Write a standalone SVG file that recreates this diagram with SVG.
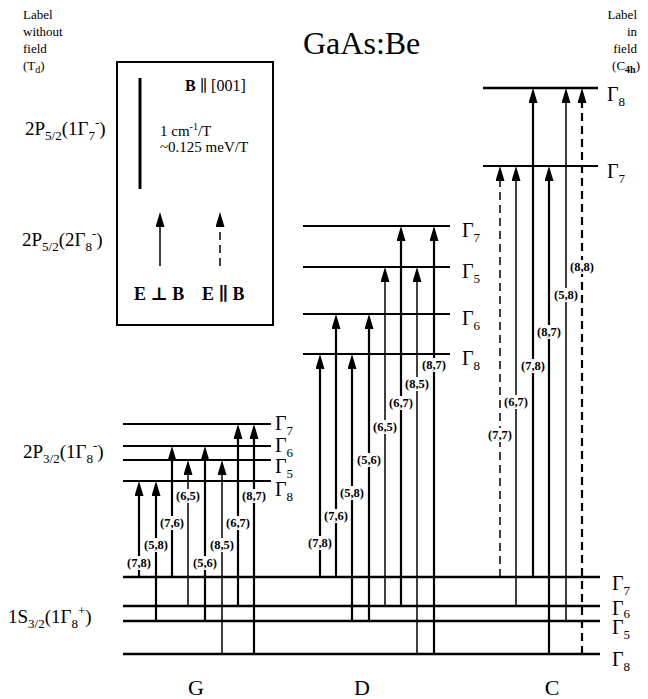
<svg xmlns="http://www.w3.org/2000/svg" width="648" height="699" viewBox="0 0 648 699" font-family="'Liberation Serif', 'DejaVu Serif', serif">
<style>
text{font-family:'Liberation Serif','DejaVu Serif',serif;fill:#000}
.lv{stroke:#000;stroke-width:2.2;fill:none}
.gl{stroke:#000;stroke-width:2.5;fill:none}
.a{stroke:#000;stroke-width:2.2;fill:none}
.t{stroke:#000;stroke-width:1.5;fill:none}
.d{stroke-dasharray:8,5}
.g{font-size:20px}
.s{font-size:13px}
.lab{font-size:12.5px;font-weight:bold;text-anchor:middle}
.hd{font-size:13px}
.big{font-size:19px}
.sb{font-size:13px}
</style>
<defs>
<marker id="ah" viewBox="0 0 15 9" refX="9" refY="4.5" markerWidth="15" markerHeight="9" markerUnits="userSpaceOnUse" orient="auto"><path d="M0,0L15,4.5L0,9z" fill="#000"/></marker>
</defs>
<rect width="648" height="699" fill="#fff"/>

<g id="title"><text x="303" y="54" font-size="32">GaAs:Be</text></g>

<g id="left-header">
<text x="23" y="19" class="hd">Label</text>
<text x="23" y="36" class="hd">without</text>
<text x="23" y="53" class="hd">field</text>
<text x="23" y="70" class="hd">(T<tspan dy="3" font-size="10">d</tspan><tspan dy="-3">)</tspan></text>
</g>
<g id="right-header">
<text x="637" y="19" class="hd" text-anchor="end">Label</text>
<text x="637" y="36" class="hd" text-anchor="end">in</text>
<text x="637" y="53" class="hd" text-anchor="end">field</text>
<text x="640" y="70" class="hd" text-anchor="end">(C<tspan dy="3" font-size="10" font-weight="bold">4h</tspan><tspan dy="-3">)</tspan></text>
</g>

<g id="left-labels">
<text x="25" y="135" class="big">2P<tspan dy="5" class="sb">5/2</tspan><tspan dy="-5">(1Γ</tspan><tspan dy="5" class="sb">7</tspan><tspan dy="-13" class="sb">-</tspan><tspan dy="8">)</tspan></text>
<text x="22" y="246" class="big">2P<tspan dy="5" class="sb">5/2</tspan><tspan dy="-5">(2Γ</tspan><tspan dy="5" class="sb">8</tspan><tspan dy="-13" class="sb">-</tspan><tspan dy="8">)</tspan></text>
<text x="23" y="458" class="big">2P<tspan dy="5" class="sb">3/2</tspan><tspan dy="-5">(1Γ</tspan><tspan dy="5" class="sb">8</tspan><tspan dy="-13" class="sb">-</tspan><tspan dy="8">)</tspan></text>
<text x="8" y="623" class="big">1S<tspan dy="5" class="sb">3/2</tspan><tspan dy="-5">(1Γ</tspan><tspan dy="5" class="sb">8</tspan><tspan dy="-13" class="sb">+</tspan><tspan dy="8">)</tspan></text>
</g>

<g id="inset">
<rect x="117" y="62" width="156" height="263" fill="none" stroke="#000" stroke-width="2"/>
<line x1="140" y1="78" x2="140" y2="189" stroke="#000" stroke-width="3"/>
<text x="185" y="91" font-size="16"><tspan font-weight="bold">B</tspan> ∥ [001]</text>
<text x="160" y="136" font-size="15">1 cm<tspan dy="-6" font-size="10">-1</tspan><tspan dy="6">/T</tspan></text>
<text x="160" y="152" font-size="15">~0.125 meV/T</text>
<line x1="160" y1="266" x2="160" y2="218" class="t" marker-end="url(#ah)"/>
<line x1="220" y1="266" x2="220" y2="218" class="t d" stroke-width="2" marker-end="url(#ah)"/>
<text x="134" y="300" font-size="18" font-weight="bold">E ⊥ B</text>
<text x="202" y="300" font-size="18" font-weight="bold">E ∥ B</text>
</g>

<g id="ground-levels">
<line x1="123" y1="577" x2="600" y2="577" class="gl"/>
<line x1="123" y1="606" x2="600" y2="606" class="gl"/>
<line x1="123" y1="621" x2="600" y2="621" class="gl"/>
<line x1="123" y1="654" x2="600" y2="654" class="gl"/>
<text x="612" y="590" class="g">Γ<tspan dy="5" class="s">7</tspan></text>
<text x="612" y="615" class="g">Γ<tspan dy="3" class="s">6</tspan></text>
<text x="612" y="634" class="g">Γ<tspan dy="5" class="s">5</tspan></text>
<text x="612" y="666" class="g">Γ<tspan dy="5" class="s">8</tspan></text>
</g>

<g id="G-levels">
<line x1="123" y1="424" x2="271" y2="424" class="lv"/>
<line x1="123" y1="446" x2="271" y2="446" class="lv"/>
<line x1="123" y1="460" x2="271" y2="460" class="lv"/>
<line x1="123" y1="481" x2="271" y2="481" class="lv"/>
<text x="275" y="430" class="g">Γ<tspan dy="5" class="s">7</tspan></text>
<text x="275" y="452" class="g">Γ<tspan dy="5" class="s">6</tspan></text>
<text x="275" y="473" class="g">Γ<tspan dy="5" class="s">5</tspan></text>
<text x="275" y="496" class="g">Γ<tspan dy="5" class="s">8</tspan></text>
</g>

<g id="D-levels">
<line x1="303" y1="226" x2="450" y2="226" class="lv"/>
<line x1="303" y1="267" x2="450" y2="267" class="lv"/>
<line x1="303" y1="314" x2="450" y2="314" class="lv"/>
<line x1="303" y1="354" x2="450" y2="354" class="lv"/>
<text x="462" y="237" class="g">Γ<tspan dy="5" class="s">7</tspan></text>
<text x="462" y="278" class="g">Γ<tspan dy="5" class="s">5</tspan></text>
<text x="462" y="325" class="g">Γ<tspan dy="5" class="s">6</tspan></text>
<text x="462" y="365" class="g">Γ<tspan dy="5" class="s">8</tspan></text>
</g>

<g id="C-levels">
<line x1="483" y1="88" x2="598" y2="88" class="gl"/>
<line x1="483" y1="166" x2="598" y2="166" class="lv"/>
<text x="607" y="101" class="g">Γ<tspan dy="5" class="s">8</tspan></text>
<text x="607" y="178" class="g">Γ<tspan dy="5" class="s">7</tspan></text>
</g>

<g id="connectors">
<line x1="139" y1="577" x2="139" y2="487" class="a" marker-end="url(#ah)"/>
<line x1="156" y1="621" x2="156" y2="487" class="a" marker-end="url(#ah)"/>
<line x1="172" y1="577" x2="172" y2="452" class="a" marker-end="url(#ah)"/>
<line x1="188" y1="606" x2="188" y2="466" class="t" marker-end="url(#ah)"/>
<line x1="205" y1="621" x2="205" y2="452" class="a" marker-end="url(#ah)"/>
<line x1="222" y1="654" x2="222" y2="466" class="t" marker-end="url(#ah)"/>
<line x1="238" y1="606" x2="238" y2="430" class="a" marker-end="url(#ah)"/>
<line x1="254" y1="654" x2="254" y2="430" class="a" marker-end="url(#ah)"/>

<line x1="320" y1="577" x2="320" y2="360" class="a" marker-end="url(#ah)"/>
<line x1="336" y1="577" x2="336" y2="320" class="a" marker-end="url(#ah)"/>
<line x1="352" y1="621" x2="352" y2="360" class="a" marker-end="url(#ah)"/>
<line x1="369" y1="621" x2="369" y2="320" class="a" marker-end="url(#ah)"/>
<line x1="385" y1="606" x2="385" y2="273" class="t" marker-end="url(#ah)"/>
<line x1="401" y1="606" x2="401" y2="232" class="a" marker-end="url(#ah)"/>
<line x1="417" y1="654" x2="417" y2="273" class="t" marker-end="url(#ah)"/>
<line x1="434" y1="654" x2="434" y2="232" class="a" marker-end="url(#ah)"/>

<line x1="500" y1="577" x2="500" y2="172" class="t d" stroke-width="2" marker-end="url(#ah)"/>
<line x1="516" y1="606" x2="516" y2="172" class="t" marker-end="url(#ah)"/>
<line x1="533" y1="577" x2="533" y2="94" class="a" stroke-width="2.6" marker-end="url(#ah)"/>
<line x1="549" y1="654" x2="549" y2="172" class="a" stroke-width="2.6" marker-end="url(#ah)"/>
<line x1="566" y1="621" x2="566" y2="94" class="t" marker-end="url(#ah)"/>
<line x1="582" y1="654" x2="582" y2="94" class="a d" stroke-width="2.6" marker-end="url(#ah)"/>
</g>

<g id="transition-labels">
<g fill="#fff">
<rect x="126" y="556" width="26" height="14"/><rect x="143" y="538" width="26" height="14"/>
<rect x="159" y="516" width="26" height="14"/><rect x="175" y="489" width="26" height="14"/>
<rect x="192" y="556" width="26" height="14"/><rect x="209" y="538" width="26" height="14"/>
<rect x="225" y="516" width="26" height="14"/><rect x="241" y="489" width="26" height="14"/>
<rect x="307" y="536" width="26" height="14"/><rect x="323" y="509" width="26" height="14"/>
<rect x="339" y="486" width="26" height="14"/><rect x="356" y="453" width="26" height="14"/>
<rect x="372" y="420" width="26" height="14"/><rect x="388" y="396" width="26" height="14"/>
<rect x="404" y="377" width="26" height="14"/><rect x="421" y="358" width="26" height="14"/>
<rect x="487" y="428" width="26" height="14"/><rect x="503" y="395" width="26" height="14"/>
<rect x="520" y="359" width="26" height="14"/><rect x="536" y="325" width="26" height="14"/>
<rect x="553" y="288" width="26" height="14"/><rect x="569" y="260" width="26" height="14"/>
</g>
<text x="139" y="567" class="lab">(7,8)</text>
<text x="156" y="549" class="lab">(5,8)</text>
<text x="172" y="527" class="lab">(7,6)</text>
<text x="188" y="500" class="lab">(6,5)</text>
<text x="205" y="567" class="lab">(5,6)</text>
<text x="222" y="549" class="lab">(8,5)</text>
<text x="238" y="527" class="lab">(6,7)</text>
<text x="254" y="500" class="lab">(8,7)</text>
<text x="320" y="547" class="lab">(7,8)</text>
<text x="336" y="520" class="lab">(7,6)</text>
<text x="352" y="497" class="lab">(5,8)</text>
<text x="369" y="464" class="lab">(5,6)</text>
<text x="385" y="431" class="lab">(6,5)</text>
<text x="401" y="407" class="lab">(6,7)</text>
<text x="417" y="388" class="lab">(8,5)</text>
<text x="434" y="369" class="lab">(8,7)</text>
<text x="500" y="439" class="lab">(7,7)</text>
<text x="516" y="406" class="lab">(6,7)</text>
<text x="533" y="370" class="lab">(7,8)</text>
<text x="549" y="336" class="lab">(8,7)</text>
<text x="566" y="299" class="lab">(5,8)</text>
<text x="582" y="271" class="lab">(8,8)</text>
</g>

<g id="series-labels">
<text x="196" y="695" font-size="22" text-anchor="middle">G</text>
<text x="362" y="695" font-size="22" text-anchor="middle">D</text>
<text x="552" y="695" font-size="22" text-anchor="middle">C</text>
</g>
</svg>
